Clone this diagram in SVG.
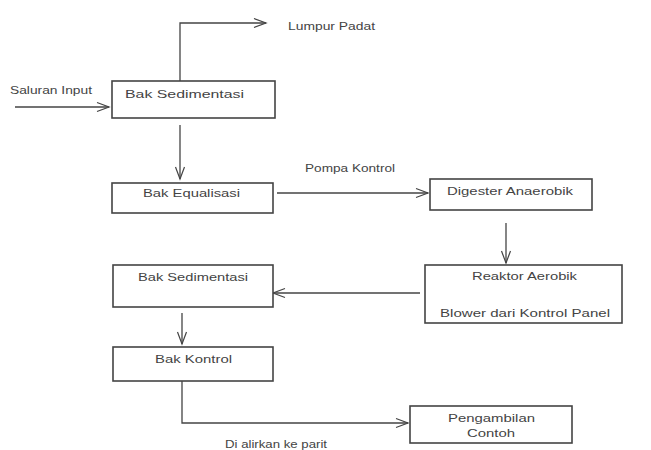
<svg xmlns="http://www.w3.org/2000/svg" width="651" height="450" viewBox="0 0 651 450">
<style>
.box{fill:#fff;stroke:#444;stroke-width:1.6}
.ln{fill:none;stroke:#444;stroke-width:1.3;marker-end:url(#ah)}
text{font-family:"Liberation Sans",Arial,sans-serif;font-size:11px;fill:#444}
</style>
<defs>
<marker id="ah" markerWidth="16" markerHeight="12" refX="13" refY="6" orient="auto" markerUnits="userSpaceOnUse">
<polyline points="1,1.5 13,6 1,10.5" fill="none" stroke="#444" stroke-width="1.2"/>
</marker>
</defs>
<rect width="651" height="450" fill="#fff"/>
<g id="connectors">
<polyline class="ln" points="180,81 180,23 266,23"/>
<line class="ln" x1="15" y1="107" x2="109" y2="107"/>
<line class="ln" x1="180" y1="125" x2="180" y2="179"/>
<line class="ln" x1="277" y1="193" x2="428" y2="193"/>
<line class="ln" x1="506" y1="223" x2="506" y2="263"/>
<line class="ln" x1="420" y1="293" x2="273" y2="293"/>
<line class="ln" x1="182" y1="313" x2="182" y2="344"/>
<polyline class="ln" points="182,381 182,423 408,423"/>
</g>
<g id="lbl-lumpur"><text x="288" y="30" textLength="87" lengthAdjust="spacingAndGlyphs">Lumpur Padat</text></g>
<g id="lbl-input"><text x="10" y="94" textLength="82" lengthAdjust="spacingAndGlyphs">Saluran Input</text></g>
<g id="lbl-pompa"><text x="305" y="172" textLength="90" lengthAdjust="spacingAndGlyphs">Pompa Kontrol</text></g>
<g id="lbl-parit"><text x="225" y="448" font-size="10" textLength="102" lengthAdjust="spacingAndGlyphs">Di alirkan ke parit</text></g>
<g id="n-sed1">
<rect class="box" x="112" y="81" width="163" height="37"/>
<text x="125" y="98" textLength="119" lengthAdjust="spacingAndGlyphs">Bak Sedimentasi</text>
</g>
<g id="n-eq">
<rect class="box" x="112" y="183" width="161" height="30"/>
<text x="143" y="197" textLength="97" lengthAdjust="spacingAndGlyphs">Bak Equalisasi</text>
</g>
<g id="n-dig">
<rect class="box" x="430" y="179" width="162" height="31"/>
<text x="447" y="195" textLength="126" lengthAdjust="spacingAndGlyphs">Digester Anaerobik</text>
</g>
<g id="n-reak">
<rect class="box" x="425" y="265" width="197" height="58"/>
<text x="472" y="280" textLength="105" lengthAdjust="spacingAndGlyphs">Reaktor Aerobik</text>
<text x="440" y="317" textLength="170" lengthAdjust="spacingAndGlyphs">Blower dari Kontrol Panel</text>
</g>
<g id="n-sed2">
<rect class="box" x="113" y="265" width="160" height="42"/>
<text x="138" y="281" textLength="110" lengthAdjust="spacingAndGlyphs">Bak Sedimentasi</text>
</g>
<g id="n-kontrol">
<rect class="box" x="113" y="347" width="160" height="34"/>
<text x="155" y="363" textLength="77" lengthAdjust="spacingAndGlyphs">Bak Kontrol</text>
</g>
<g id="n-peng">
<rect class="box" x="410" y="406" width="162" height="37"/>
<text x="448" y="422" textLength="87" lengthAdjust="spacingAndGlyphs">Pengambilan</text>
<text x="467" y="437" textLength="48" lengthAdjust="spacingAndGlyphs">Contoh</text>
</g>
</svg>
